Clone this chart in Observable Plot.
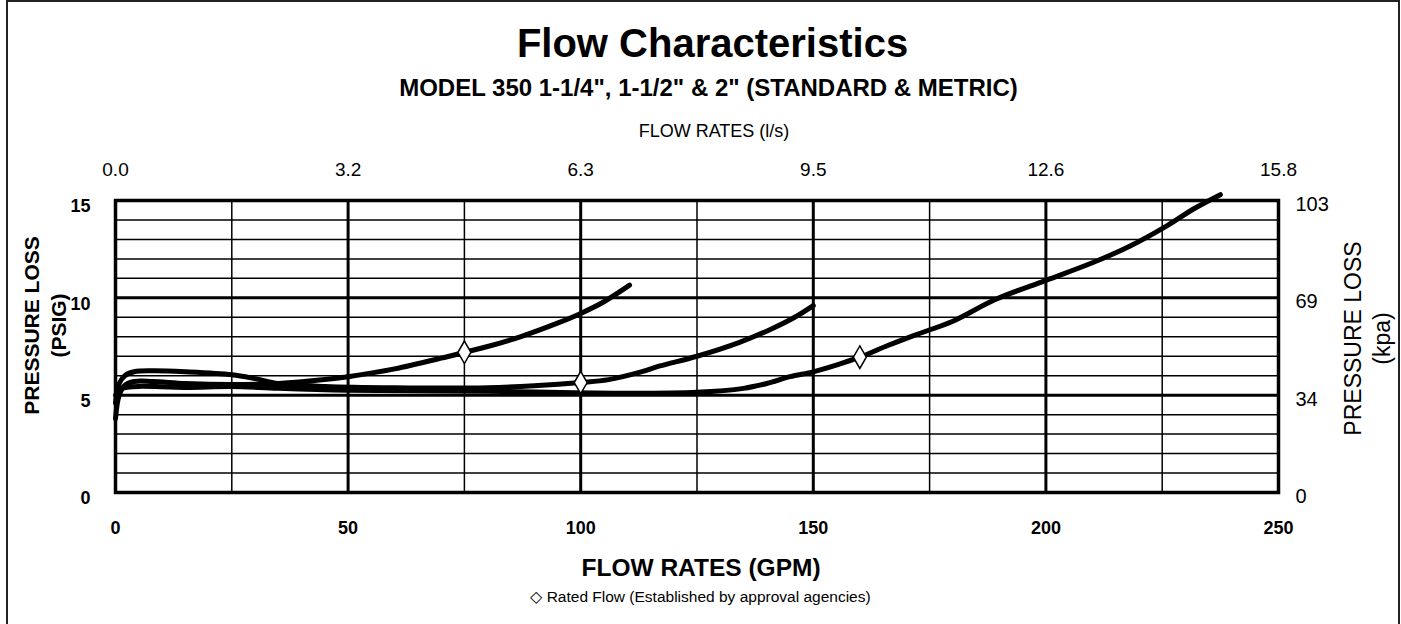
<!DOCTYPE html>
<html><head><meta charset="utf-8">
<script src="https://cdn.jsdelivr.net/npm/d3@7"></script>
<script src="https://cdn.jsdelivr.net/npm/@observablehq/plot@0.6"></script>
<style>
body{margin:0;background:#fff;font-family:"Liberation Sans",Arial,sans-serif;}
#page{position:relative;width:1401px;height:624px;overflow:hidden;background:#fff;}
#frame{position:absolute;left:6px;top:0;width:1394px;height:700px;box-sizing:border-box;border:2.5px solid #222;}
.t{position:absolute;left:0;width:1401px;text-align:center;white-space:nowrap;color:#000;}
#title{top:23px;left:12px;font-size:40px;font-weight:bold;line-height:40px;}
#subtitle{top:76px;left:8px;font-size:24px;font-weight:bold;line-height:24px;}
#caption{top:589px;font-size:15.5px;line-height:15px;}
#chart{position:absolute;left:0;top:100px;}
</style></head>
<body>
<div id="page">
  <div id="frame"></div>
  <div id="title" class="t">Flow Characteristics</div>
  <div id="subtitle" class="t">MODEL 350 1-1/4", 1-1/2" &amp; 2" (STANDARD &amp; METRIC)</div>
  <div id="chart"></div>
  <div id="caption" class="t">◇ Rated Flow (Established by approval agencies)</div>
</div>
<script>
// Tick values and labels
const psiTicks = [0, 5, 10, 15];
const kpaLabels = ["0", "34", "69", "103"];
const gpmTicks = [0, 50, 100, 150, 200, 250];
const lpsLabels = ["0.0", "3.2", "6.3", "9.5", "12.6", "15.8"];

// Series: 1-1/4"
const gpm125 = [0, 0.8, 2, 4, 8, 15, 25, 35, 45, 50, 60, 70, 75, 80, 87, 95, 100, 105, 110.5];
const psi125 = [3.8, 5.0, 5.5, 5.7, 5.7, 5.6, 5.55, 5.6, 5.8, 5.95, 6.35, 6.9, 7.2, 7.5, 8.0, 8.7, 9.2, 9.8, 10.65];
// Series: 1-1/2"
const gpm150 = [0, 0.8, 2, 4, 8, 15, 25, 30, 35, 45, 60, 80, 90, 100, 106, 113, 117, 125, 134, 141, 146, 150];
const psi150 = [4.6, 5.6, 6.0, 6.2, 6.25, 6.2, 6.05, 5.85, 5.6, 5.45, 5.38, 5.38, 5.48, 5.65, 5.8, 6.2, 6.5, 7.0, 7.7, 8.4, 9.0, 9.6];
// Series: 2"
const gpm200 = [0, 1, 2.5, 5, 15, 25, 35, 50, 80, 110, 125, 135, 140, 145, 150, 155, 160, 166, 172, 180, 189, 200, 210, 218, 226, 232, 237.5];
const psi200 = [5.0, 5.3, 5.4, 5.45, 5.4, 5.45, 5.35, 5.25, 5.2, 5.1, 5.15, 5.35, 5.6, 5.95, 6.2, 6.55, 6.95, 7.55, 8.1, 8.8, 9.9, 10.9, 11.8, 12.65, 13.7, 14.6, 15.3];
// Rated flow points
const ratedGpm = [75, 100, 160];
const ratedPsi = [7.2, 5.65, 6.95];

const zip = (xs, ys) => xs.map((x, i) => ({gpm: x, psi: ys[i]}));
const series = [zip(gpm125, psi125), zip(gpm150, psi150), zip(gpm200, psi200)];
const rated = zip(ratedGpm, ratedPsi);

const minorPsi = d3.range(0, 16).filter(d => d % 5 !== 0);
const minorGpm = d3.range(0, 251, 25).filter(d => d % 50 !== 0);
const FONT = '"Liberation Sans", Arial, sans-serif';

const chart = Plot.plot({
  width: 1401, height: 490,
  marginTop: 100, marginBottom: 98, marginLeft: 115, marginRight: 123,
  x: {domain: [0, 250]},
  y: {domain: [0, 15]},
  style: {fontFamily: FONT, color: "#000", background: "transparent", overflow: "visible"},
  marks: [
    Plot.ruleY(minorPsi, {stroke: "#000", strokeWidth: 1.5}),
    Plot.ruleX(minorGpm, {stroke: "#000", strokeWidth: 1.5}),
    Plot.ruleY(psiTicks, {stroke: "#000", strokeWidth: 3}),
    Plot.ruleX(gpmTicks, {stroke: "#000", strokeWidth: 3}),
    Plot.frame({stroke: "#000", strokeWidth: 3.5}),
    ...series.map(s => Plot.line(s, {x: "gpm", y: "psi", curve: "catmull-rom", stroke: "#000", strokeWidth: 5, strokeLinejoin: "round"})),
    Plot.dot(rated, {x: "gpm", y: "psi", symbol: "diamond", r: 6.8, fill: "#fff", stroke: "#000", strokeWidth: 1.5}),
    Plot.axisY(psiTicks, {anchor: "left", tickSize: 0, tickPadding: 25, fontWeight: "bold", fontSize: 18, dy: 6, label: null}),
    Plot.axisY(psiTicks, {anchor: "right", tickSize: 0, tickPadding: 17, fontSize: 20, dy: 4, label: null,
      tickFormat: d => kpaLabels[psiTicks.indexOf(d)]}),
    Plot.axisX(gpmTicks, {anchor: "bottom", tickSize: 0, tickPadding: 29, fontWeight: "bold", fontSize: 18, label: null}),
    Plot.axisX(gpmTicks, {anchor: "top", tickSize: 0, tickPadding: 25, fontSize: 19, label: null,
      tickFormat: d => lpsLabels[gpmTicks.indexOf(d)]}),
    Plot.text(["FLOW RATES (GPM)"], {frameAnchor: "bottom", dy: 76, dx: 4, fontWeight: "bold", fontSize: 24.5, lineAnchor: "middle"}),
    Plot.text(["FLOW RATES (l/s)"], {frameAnchor: "top", dy: -69, dx: 17, fontSize: 18, lineAnchor: "middle"}),
    Plot.text(["PRESSURE LOSS\n(PSIG)"], {frameAnchor: "left", dx: -72, dy: -21, rotate: -90, textAnchor: "middle", fontWeight: "bold", fontSize: 21, lineHeight: 1.3, lineAnchor: "middle"}),
    Plot.text(["PRESSURE LOSS\n(kpa)"], {frameAnchor: "right", dx: 88, dy: -8, rotate: -90, textAnchor: "middle", fontSize: 23, lineHeight: 1.25, lineAnchor: "middle"})
  ]
});
document.getElementById("chart").appendChild(chart);
</script>
</body></html>
